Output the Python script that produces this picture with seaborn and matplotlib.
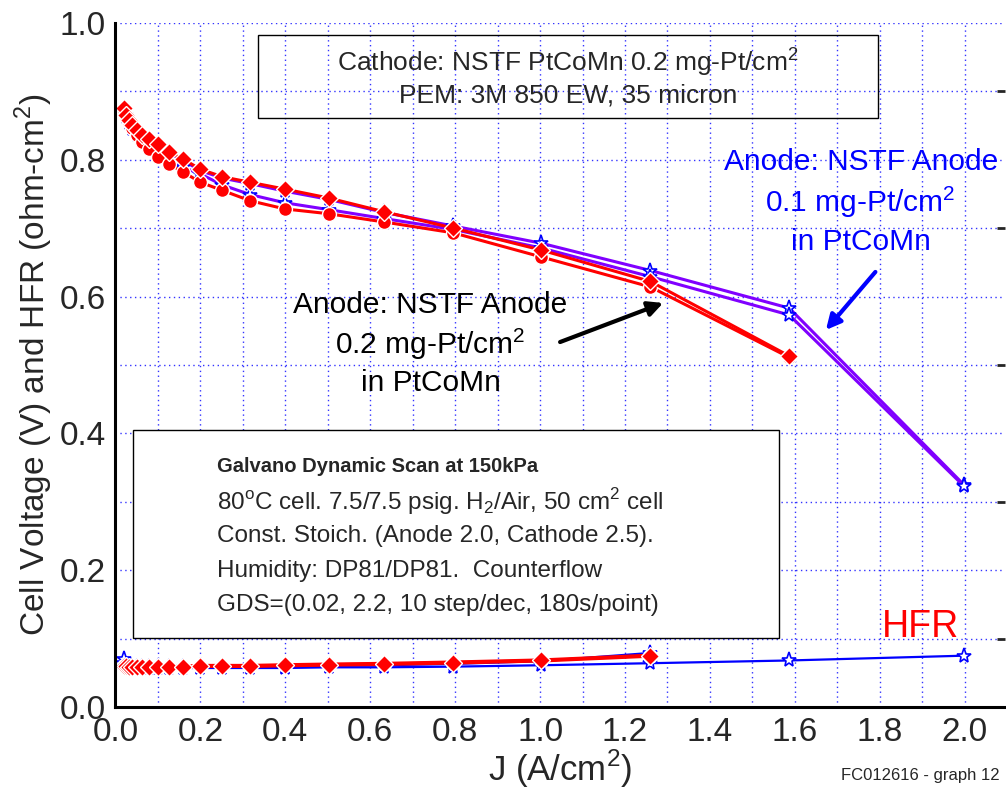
import numpy as np
import pandas as pd
import seaborn as sns
import matplotlib.pyplot as plt
from matplotlib.patches import Rectangle
from matplotlib.ticker import MultipleLocator

# current density steps, GDS 10 step/dec from 0.02
j_all = [0.020, 0.0252, 0.0317, 0.0399, 0.0502, 0.0632, 0.0796, 0.1002, 0.126, 0.159,
         0.200, 0.252, 0.317, 0.399, 0.502, 0.632, 0.796, 1.002, 1.260, 1.587, 1.998]
j_red = j_all[:20]
j_hfr = j_all[:19]

# NSTF anode 0.2 mg-Pt/cm2 (red)
v_red_up = [0.875, 0.866, 0.858, 0.850, 0.843, 0.836, 0.830, 0.823, 0.811, 0.801,
            0.786, 0.775, 0.767, 0.757, 0.744, 0.724, 0.700, 0.668, 0.622, 0.513]
v_red_dn = [0.873, 0.864, 0.855, 0.846, 0.836, 0.826, 0.815, 0.804, 0.794, 0.782,
            0.767, 0.755, 0.740, 0.728, 0.721, 0.709, 0.693, 0.658, 0.614, 0.511]
# NSTF anode 0.1 mg-Pt/cm2 (purple / blue stars)
v_pur_up = [0.874, 0.865, 0.857, 0.849, 0.842, 0.835, 0.828, 0.820, 0.809, 0.799,
            0.784, 0.773, 0.765, 0.754, 0.742, 0.723, 0.703, 0.678, 0.638, 0.583, 0.325]
v_pur_dn = [0.872, 0.863, 0.854, 0.845, 0.836, 0.827, 0.817, 0.807, 0.797, 0.789,
            0.779, 0.763, 0.749, 0.737, 0.727, 0.714, 0.698, 0.671, 0.629, 0.573, 0.323]

# HFR
hfr_red = [0.060, 0.060, 0.059, 0.059, 0.059, 0.059, 0.059, 0.059, 0.059, 0.059,
           0.060, 0.060, 0.060, 0.061, 0.062, 0.063, 0.065, 0.068, 0.075]
hfr_blue_a = [0.070, 0.062, 0.060, 0.059, 0.058, 0.058, 0.058, 0.058, 0.058, 0.058,
              0.058, 0.058, 0.058, 0.059, 0.060, 0.061, 0.063, 0.067, 0.079]
hfr_blue_b = [0.064, 0.060, 0.059, 0.058, 0.057, 0.057, 0.057, 0.057, 0.057, 0.057,
              0.057, 0.057, 0.057, 0.057, 0.058, 0.058, 0.059, 0.061, 0.064, 0.068, 0.075]

sns.set_style('white')
plt.rcParams['font.family'] = ['Liberation Sans', 'DejaVu Sans']
plt.rcParams['mathtext.fontset'] = 'custom'
plt.rcParams['mathtext.rm'] = 'Liberation Sans'

fig = plt.figure(figsize=(10.06, 7.88), dpi=100)
ax = fig.add_axes([0.1148, 0.1028, 0.8842, 0.8682])

RED = '#ff0000'
PUR = '#8000ff'
BLUE = '#0000ff'

star = dict(marker='*', markersize=11, markerfacecolor='white',
            markeredgecolor=BLUE, markeredgewidth=1.2)
dia = dict(marker='D', markersize=9, markerfacecolor=RED,
           markeredgecolor='white', markeredgewidth=1.0)
circ = dict(marker='o', markersize=10, markerfacecolor=RED,
            markeredgecolor='white', markeredgewidth=1.0)

# polarization curves
sns.lineplot(x=j_all, y=v_pur_up, color=PUR, linewidth=2.2, ax=ax, **star)
sns.lineplot(x=j_all, y=v_pur_dn, color=PUR, linewidth=2.2, ax=ax, **star)
sns.lineplot(x=j_red, y=v_red_dn, color=RED, linewidth=2.2, ax=ax, **circ)
sns.lineplot(x=j_red, y=v_red_up, color=RED, linewidth=2.2, ax=ax, **dia)

# HFR
sns.lineplot(x=j_all, y=hfr_blue_b, color=BLUE, linewidth=1.6, ax=ax, **star)
sns.lineplot(x=j_hfr, y=hfr_blue_a, color=BLUE, linewidth=1.6, ax=ax, **star)
sns.lineplot(x=j_hfr, y=hfr_red, color=RED, linewidth=3.0, ax=ax, **circ)
sns.lineplot(x=j_hfr, y=hfr_red, color=RED, linewidth=2.0, ax=ax, **dia)

ax.set_xlim(0, 2.095)
ax.set_ylim(0, 1.0)
ax.xaxis.set_major_locator(MultipleLocator(0.2))
ax.xaxis.set_minor_locator(MultipleLocator(0.1))
ax.yaxis.set_major_locator(MultipleLocator(0.2))
ax.yaxis.set_minor_locator(MultipleLocator(0.1))
ax.set_xticks([0.0, 0.2, 0.4, 0.6, 0.8, 1.0, 1.2, 1.4, 1.6, 1.8, 2.0])
ax.set_xticklabels([f'{v:.1f}' for v in ax.get_xticks()])
ax.set_yticklabels([f'{v:.1f}' for v in ax.get_yticks()])
ax.grid(which='both', color=BLUE, linestyle=(0, (1, 2.5)), linewidth=1.0, alpha=0.8)
ax.set_axisbelow(True)

ax.tick_params(which='major', direction='in', length=11, width=2, labelsize=24,
               top=False, right=False, pad=7)
ax.tick_params(which='minor', direction='in', length=6, width=2, top=False, right=True)
for s in ['left', 'bottom']:
    ax.spines[s].set_linewidth(2.2)
    ax.spines[s].set_color('black')
ax.spines['top'].set_visible(False)
ax.spines['right'].set_visible(False)

ax.set_xlabel('J (A/cm$^2$)', fontsize=25, labelpad=0)
ax.set_ylabel('Cell Voltage (V) and HFR (ohm-cm$^2$)', fontsize=24, labelpad=3)

# text boxes
ax.add_patch(Rectangle((0.336, 0.861), 1.46, 0.121, fill=False, edgecolor='black',
                       linewidth=1.0, zorder=5))
ax.add_patch(Rectangle((0.041, 0.101), 1.522, 0.304, facecolor='white', edgecolor='black',
                       linewidth=1.0, zorder=5))
ax.text(1.066, 0.944, 'Cathode: NSTF PtCoMn 0.2 mg-Pt/cm$^2$', ha='center', va='center',
        fontsize=19, zorder=6)
ax.text(1.066, 0.894, 'PEM: 3M 850 EW, 35 micron', ha='center', va='center',
        fontsize=19, zorder=6)

box_lines = ['80$^\\mathrm{o}$C cell. 7.5/7.5 psig. H$_2$/Air, 50 cm$^2$ cell',
             'Const. Stoich. (Anode 2.0, Cathode 2.5).',
             'Humidity: DP81/DP81.  Counterflow',
             'GDS=(0.02, 2.2, 10 step/dec, 180s/point)']
ax.text(0.24, 0.352, 'Galvano Dynamic Scan at 150kPa', fontsize=14.5, fontweight='bold',
        ha='left', va='center', zorder=6)
for i, line in enumerate(box_lines):
    ax.text(0.24, 0.300 - i * 0.0505, line, fontsize=17.5, ha='left', va='center', zorder=6)

for i, line in enumerate(['Anode: NSTF Anode', '0.2 mg-Pt/cm$^2$', 'in PtCoMn']):
    ax.text(0.742, 0.587 - i * 0.0570, line, fontsize=21.5, ha='center', va='center',
            color='black')
for i, line in enumerate(['Anode: NSTF Anode', '0.1 mg-Pt/cm$^2$', 'in PtCoMn']):
    ax.text(1.755, 0.796 - i * 0.0585, line, fontsize=21.5, ha='center', va='center',
            color=BLUE)

ax.annotate('', xy=(1.296, 0.592), xytext=(1.041, 0.532),
            arrowprops=dict(arrowstyle='-|>', color='black', lw=3, mutation_scale=22))
ax.annotate('', xy=(1.669, 0.548), xytext=(1.794, 0.639),
            arrowprops=dict(arrowstyle='-|>', color=BLUE, lw=3, mutation_scale=22))

ax.text(1.897, 0.117, 'HFR', fontsize=27, color=RED, ha='center', va='center')
fig.text(0.915, 0.016, 'FC012616 - graph 12', fontsize=12, ha='center', va='center')

fig.savefig('out.png', dpi=100)
